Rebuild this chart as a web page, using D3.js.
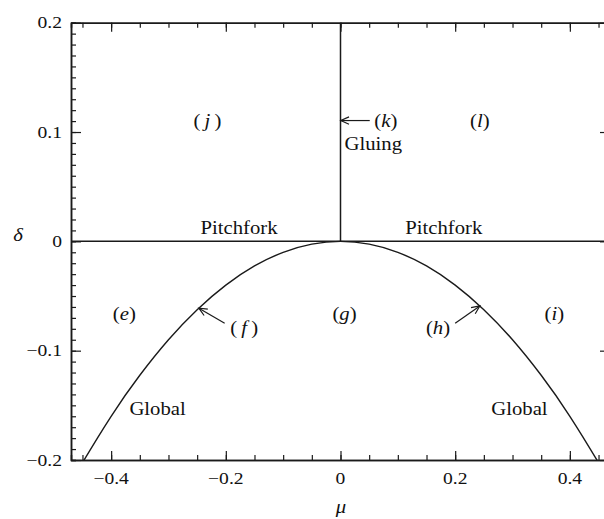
<!DOCTYPE html>
<html>
<head>
<meta charset="utf-8">
<script src="https://cdn.jsdelivr.net/npm/d3@7"></script>
<style>
  html, body { margin: 0; padding: 0; background: #fff; }
  svg { display: block; }
  text { font-family: "Liberation Serif", "Times New Roman", serif; fill: #111; }
</style>
</head>
<body>
<svg id="chart" width="604" height="519"></svg>
<script>
// Bifurcation boundary: delta along the "Global" curve
const curveMu    = [-0.47, -0.45, -0.40, -0.35, -0.30, -0.25, -0.20, -0.15, -0.10, -0.05, 0.00,
                     0.05, 0.10, 0.15, 0.20, 0.25, 0.30, 0.35, 0.40, 0.45, 0.47];
const curveDelta = [-0.2209, -0.2025, -0.160, -0.1225, -0.090, -0.0625, -0.040, -0.0225, -0.010, -0.0025, 0.000,
                    -0.0025, -0.010, -0.0225, -0.040, -0.0625, -0.090, -0.1225, -0.160, -0.2025, -0.2209];

// Pitchfork line (delta = 0) and gluing line (mu = 0, delta >= 0)
const pitchforkMu = [-0.47, 0.47];
const gluingDelta = [0, 0.2];

// Tick labels
const xTickValues = [-0.4, -0.2, 0, 0.2, 0.4];
const xTickLabels = ["\u22120.4", "\u22120.2", "0", "0.2", "0.4"];
const yTickValues = [-0.2, -0.1, 0, 0.1, 0.2];
const yTickLabels = ["\u22120.2", "\u22120.1", "0", "0.1", "0.2"];

// Region labels (mu, delta, letter)
const regionLabels = [
  { mu: -0.377, delta: -0.0665, letter: "e" },
  { mu:  0.007, delta: -0.0665, letter: "g" },
  { mu:  0.373, delta: -0.0665, letter: "i" },
  { mu: -0.232, delta:  0.1105, letter: "j" },
  { mu:  0.243, delta:  0.1105, letter: "l" }
];
// Labels with arrows pointing at a boundary
const arrowLabels = [
  { mu: -0.168, delta: -0.079, letter: "f", from: [-0.202, -0.075], to: [-0.247, -0.0611] },
  { mu:  0.170, delta: -0.079, letter: "h", from: [ 0.200, -0.075], to: [ 0.243, -0.0591] },
  { mu:  0.079, delta:  0.1105, letter: "k", from: [ 0.051, 0.1105], to: [ 0.0005, 0.1105] }
];
// Boundary names
const boundaryNames = [
  { mu: -0.177, delta:  0.0065, text: "Pitchfork", anchor: "middle" },
  { mu:  0.180, delta:  0.0065, text: "Pitchfork", anchor: "middle" },
  { mu:  0.007, delta:  0.0835, text: "Gluing",    anchor: "start" },
  { mu: -0.319, delta: -0.1585, text: "Global",    anchor: "middle" },
  { mu:  0.312, delta: -0.1585, text: "Global",    anchor: "middle" }
];

const svg = d3.select("#chart");
const plotLeft = 71, plotRight = 610, plotTop = 22.7, plotBottom = 460;
const stretch = 1.12;

const x = d3.scaleLinear().domain([-0.47, 0.47]).range([plotLeft, plotRight]);
const y = d3.scaleLinear().domain([-0.2, 0.2]).range([plotBottom, plotTop]);

svg.append("defs").append("clipPath").attr("id", "plot")
  .append("rect").attr("x", plotLeft).attr("y", plotTop)
  .attr("width", plotRight - plotLeft).attr("height", plotBottom - plotTop);

const ink = "#1a1a1a";
const minorX = d3.range(-0.45, 0.4501, 0.05);
const minorY = d3.range(-0.2, 0.2001, 0.01);

// Axes: ticks on all four sides, pointing inwards
function tickAxis(axisFn, scale, values, size) {
  return axisFn(scale).tickValues(values).tickSize(size).tickFormat("");
}
function styleAxis(g) {
  g.selectAll("path.domain").attr("stroke", ink).attr("stroke-width", 1.5);
  g.selectAll(".tick line").attr("stroke", ink).attr("stroke-width", 1.2);
}
const axes = svg.append("g");
axes.append("g").attr("transform", `translate(0,${plotBottom})`)
  .call(tickAxis(d3.axisTop, x, minorX, 5)).call(styleAxis);
axes.append("g").attr("transform", `translate(0,${plotBottom})`)
  .call(tickAxis(d3.axisTop, x, xTickValues, 9).tickSizeOuter(0)).call(styleAxis);
axes.append("g").attr("transform", `translate(0,${plotTop})`)
  .call(tickAxis(d3.axisBottom, x, minorX, 5)).call(styleAxis);
axes.append("g").attr("transform", `translate(0,${plotTop})`)
  .call(tickAxis(d3.axisBottom, x, xTickValues, 9).tickSizeOuter(0)).call(styleAxis);
axes.append("g").attr("transform", `translate(${plotLeft},0)`)
  .call(tickAxis(d3.axisRight, y, minorY, 5)).call(styleAxis);
axes.append("g").attr("transform", `translate(${plotLeft},0)`)
  .call(tickAxis(d3.axisRight, y, yTickValues, 10).tickSizeOuter(0)).call(styleAxis);
axes.append("g").attr("transform", `translate(${plotRight},0)`)
  .call(tickAxis(d3.axisLeft, y, minorY, 5)).call(styleAxis);
axes.append("g").attr("transform", `translate(${plotRight},0)`)
  .call(tickAxis(d3.axisLeft, y, yTickValues, 10).tickSizeOuter(0)).call(styleAxis);

// Text helper: serif, slightly widened
function stretchedText(parent, px, py, anchor, size) {
  return parent.append("g")
    .attr("transform", `translate(${px},${py}) scale(${stretch},1)`)
    .append("text").attr("text-anchor", anchor).style("font-size", size + "px");
}
const labels = svg.append("g");
xTickValues.forEach((v, i) => {
  stretchedText(labels, x(v), plotBottom + 23.5, "middle", 17.5).text(xTickLabels[i]);
});
yTickValues.forEach((v, i) => {
  stretchedText(labels, plotLeft - 9, y(v) + 5.5, "end", 17.5).text(yTickLabels[i]);
});

// Axis titles
stretchedText(labels, 18, 241, "middle", 18.5).style("font-style", "italic").text("\u03b4");
stretchedText(labels, 341, 513, "middle", 18.5).style("font-style", "italic").text("\u03bc");

// Boundaries
const plot = svg.append("g").attr("clip-path", "url(#plot)");
const line = d3.line().x(d => x(d[0])).y(d => y(d[1])).curve(d3.curveNatural);
plot.append("path")
  .datum(curveMu.map((m, i) => [m, curveDelta[i]]))
  .attr("d", line).attr("fill", "none").attr("stroke", ink).attr("stroke-width", 1.4);
plot.append("line")
  .attr("x1", x(pitchforkMu[0])).attr("x2", x(pitchforkMu[1]))
  .attr("y1", y(0)).attr("y2", y(0))
  .attr("stroke", ink).attr("stroke-width", 1.5);
plot.append("line")
  .attr("x1", x(0)).attr("x2", x(0))
  .attr("y1", y(gluingDelta[0])).attr("y2", y(gluingDelta[1]))
  .attr("stroke", ink).attr("stroke-width", 1.5);

// Region letters: upright parentheses, italic letter
function regionText(d) {
  const t = stretchedText(labels, x(d.mu), y(d.delta) + 6, "middle", 18.5);
  const pad = (d.letter === "j" || d.letter === "f") ? "\u2009" : "";
  t.append("tspan").text("(");
  t.append("tspan").style("font-style", "italic").text(pad + d.letter);
  t.append("tspan").text(pad + ")");
}
regionLabels.forEach(regionText);
arrowLabels.forEach(regionText);

// Arrows with open heads
arrowLabels.forEach(d => {
  const x1 = x(d.from[0]), y1 = y(d.from[1]);
  const x2 = x(d.to[0]), y2 = y(d.to[1]);
  const ang = Math.atan2(y2 - y1, x2 - x1);
  const head = 9, spread = 0.42;
  const g = labels.append("g").attr("stroke", ink).attr("stroke-width", 1.2).attr("fill", "none");
  g.append("line").attr("x1", x1).attr("y1", y1).attr("x2", x2).attr("y2", y2);
  g.append("path").attr("d",
    `M${x2 - head * Math.cos(ang - spread)},${y2 - head * Math.sin(ang - spread)}` +
    `L${x2},${y2}` +
    `L${x2 - head * Math.cos(ang + spread)},${y2 - head * Math.sin(ang + spread)}`);
});

// Boundary names
boundaryNames.forEach(d => {
  stretchedText(labels, x(d.mu), y(d.delta), d.anchor, 18.5).text(d.text);
});
</script>
</body>
</html>
